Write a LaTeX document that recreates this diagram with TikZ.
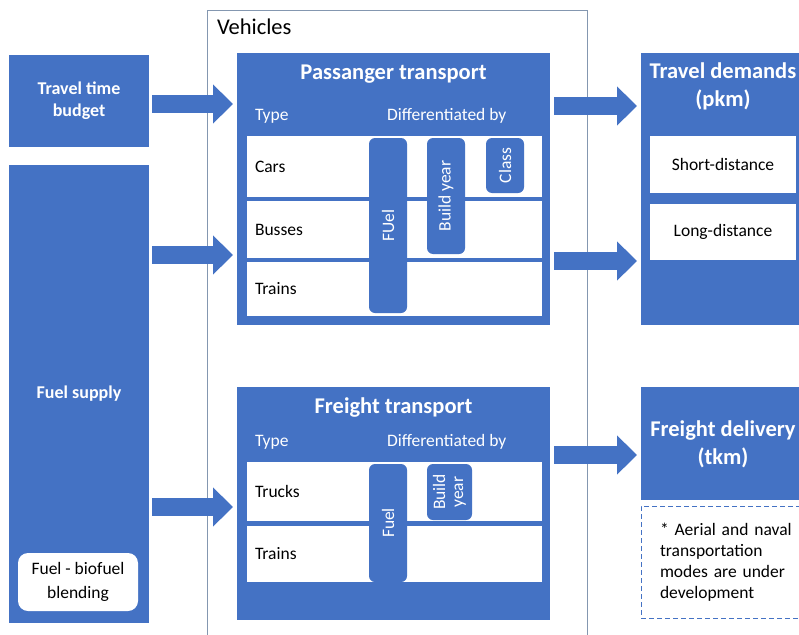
\documentclass[tikz,border=0pt]{standalone}
\usepackage{fontspec}
\setmainfont{Carlito}
\usetikzlibrary{arrows.meta,positioning}
\definecolor{officeblue}{HTML}{4472C4}
\definecolor{framegray}{RGB}{132,151,176}

\begin{document}
\begin{tikzpicture}[x=1pt, y=-1pt,
    every node/.style={inner sep=0pt, outer sep=0pt},
    bluebox/.style={fill=officeblue, anchor=north west},
    sidetext/.style={text=white, font=\bfseries\fontsize{18}{22}\selectfont, align=center},
    titletext/.style={text=white, font=\bfseries\fontsize{22.5}{28}\selectfont, align=center},
    headtext/.style={text=white, font=\fontsize{17.5}{21}\selectfont, anchor=base west},
    rowbox/.style={fill=white, anchor=north west, minimum width=295pt, text width=279pt,
      inner xsep=8pt, align=left, font=\fontsize{17.5}{21}\selectfont},
    pill/.style={fill=officeblue, rounded corners=6pt, rotate=90, minimum height=38pt,
      text=white, align=center, font=\fontsize{17.5}{18}\selectfont},
    whitebox/.style={fill=white, anchor=north west, minimum width=146pt, font=\fontsize{17.5}{21}\selectfont},
    flow/.style={officeblue, line width=18pt, shorten >=4pt, -{Triangle[length=20pt, width=38pt]}}]
    \useasboundingbox (0,0) rectangle (799,634);
    \clip (0,0) rectangle (799,634);

    % inputs on the left
    \node[bluebox, sidetext, minimum width=140pt, minimum height=92pt] (budget) at (9,55) {Travel time\\budget};
    \node[bluebox, sidetext, minimum width=140pt, minimum height=458pt] (fuel) at (9,165) {Fuel supply};
    \node[fill=white, rounded corners=10pt, minimum width=120pt, minimum height=58pt, align=center,
      font=\fontsize{17.5}{24}\selectfont] (blend) at (78,582) {Fuel - biofuel\\blending};

    % vehicles frame
    \node[draw=framegray, line width=0.8pt, anchor=north west, minimum width=380pt, minimum height=640pt] (vehicles) at (207,10) {};
    \node[anchor=base west, font=\fontsize{22.5}{27}\selectfont] (vehlabel) at ([xshift=10pt, yshift=-25pt]vehicles.north west) {Vehicles};

    % passenger transport
    \node[bluebox, minimum width=313pt, minimum height=272pt] (pass) at (237,53) {};
    \node[titletext, anchor=base] (passtitle) at ([yshift=-26pt]pass.north) {Passanger transport};
    \node[headtext] (passtype) at (255,120) {Type};
    \node[headtext] (passdiff) at (387,120) {Differentiated by};
    \node[rowbox, minimum height=61pt] (cars) at (247,136) {Cars};
    \node[rowbox, minimum height=57pt] (busses) at (247,201) {Busses};
    \node[rowbox, minimum height=54pt] (ptrains) at (247,262) {Trains};
    \node[pill, minimum width=175pt] (pfuel) at (388,225.5) {FUel};
    \node[pill, minimum width=116pt] (pbuild) at (446,196) {Build year};
    \node[pill, minimum width=55pt] (pclass) at (505,165.5) {Class};

    % freight transport
    \node[bluebox, minimum width=313pt, minimum height=233pt] (freight) at (237,387) {};
    \node[titletext, anchor=base] (frtitle) at ([yshift=-26pt]freight.north) {Freight transport};
    \node[headtext] (frtype) at (255,446) {Type};
    \node[headtext] (frdiff) at (387,446) {Differentiated by};
    \node[rowbox, minimum height=59pt] (trucks) at (247,462) {Trucks};
    \node[rowbox, minimum height=56pt] (ftrains) at (247,526) {Trains};
    \node[pill, minimum width=118pt] (ffuel) at (388,523) {Fuel};
    \node[pill, minimum width=56pt, minimum height=45pt] (fbuild) at (449.5,492) {Build\\year};

    % outputs on the right
    \node[bluebox, minimum width=164pt, minimum height=272pt] (demand) at (641,53) {};
    \node[titletext] (demtitle) at ([yshift=-33pt]demand.north) {Travel demands\\(pkm)};
    \node[whitebox, minimum height=57pt] (short) at (650,136) {Short-distance};
    \node[whitebox, minimum height=56pt] (long) at (650,204) {Long-distance};
    \node[bluebox, minimum width=164pt, minimum height=113pt] (delivery) at (641,387) {};
    \node[titletext] (deltitle) at ([yshift=-57pt]delivery.north) {Freight delivery\\(tkm)};
    \node[draw=officeblue, dash pattern=on 5pt off 3pt, line width=1pt, anchor=north west,
      minimum width=180pt, minimum height=112pt, text width=142pt, inner xsep=19pt, align=left,
      font=\fontsize{17.5}{21}\selectfont] (note) at (641,506)
      {* Aerial and naval\\transportation\\modes are under\\development};

    % flows
    \draw[flow] ([xshift=3pt, yshift=-3pt]budget.east) -- ([yshift=-3pt]budget.east -| pass.west);
    \draw[flow] ([xshift=3pt, yshift=-90pt]fuel.north east) coordinate (f1) -- (f1 -| pass.west);
    \draw[flow] ([xshift=3pt, yshift=-342pt]fuel.north east) coordinate (f2) -- (f2 -| freight.west);
    \draw[flow] ([xshift=4pt, yshift=-53pt]pass.north east) coordinate (p1) -- (p1 -| demand.west);
    \draw[flow] ([xshift=4pt, yshift=-208pt]pass.north east) coordinate (p2) -- (p2 -| demand.west);
    \draw[flow] ([xshift=4pt, yshift=-68pt]freight.north east) coordinate (r1) -- (r1 -| delivery.west);
\end{tikzpicture}
\end{document}
